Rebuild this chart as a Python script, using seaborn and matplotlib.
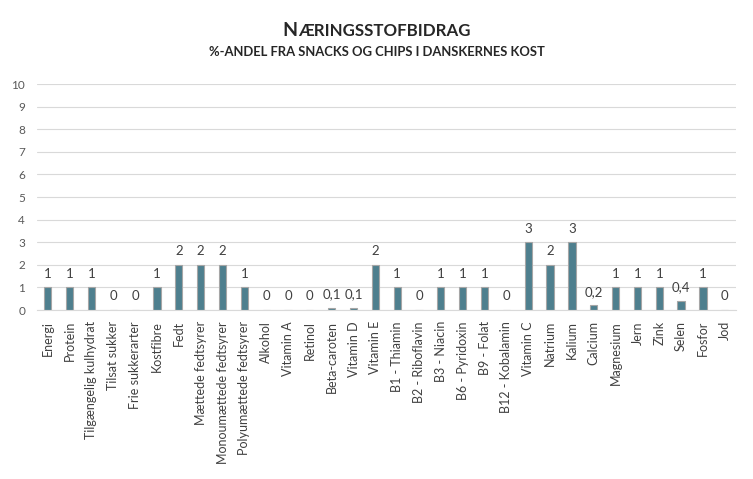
import matplotlib
matplotlib.use("Agg")
import matplotlib.pyplot as plt
import seaborn as sns
import pandas as pd

# Nutrient categories and % contribution from snacks & chips
categories = [
    "Energi", "Protein", "Tilgængelig kulhydrat", "Tilsat sukker", "Frie sukkerarter",
    "Kostfibre", "Fedt", "Mættede fedtsyrer", "Monoumættede fedtsyrer",
    "Polyumættede fedtsyrer", "Alkohol", "Vitamin A", "Retinol", "Beta-caroten",
    "Vitamin D", "Vitamin E", "B1 - Thiamin", "B2 - Riboflavin", "B3 - Niacin",
    "B6 - Pyridoxin", "B9 - Folat", "B12 - Kobalamin", "Vitamin C", "Natrium",
    "Kalium", "Calcium", "Magnesium", "Jern", "Zink", "Selen", "Fosfor", "Jod",
]
values = [1, 1, 1, 0, 0, 1, 2, 2, 2, 1, 0, 0, 0, 0.1, 0.1, 2, 1, 0, 1, 1, 1, 0,
          3, 2, 3, 0.2, 1, 1, 1, 0.4, 1, 0]
yticks = list(range(0, 11))

df = pd.DataFrame({"Naeringsstof": categories, "Andel": values})

sns.set_style("white")
plt.rcParams["font.family"] = ["Lato", "DejaVu Sans"]

fig = plt.figure(figsize=(7.53, 4.79), dpi=100)
ax = fig.add_axes([0.049, 0.3528, 0.928, 0.4718])

sns.barplot(data=df, x="Naeringsstof", y="Andel", color="#4E7F8E",
            edgecolor="#A6A6A6", linewidth=0.8, width=0.33, saturation=1, ax=ax)

labels = [f"{v:g}".replace(".", ",") for v in values]
ax.bar_label(ax.containers[0], labels=labels, padding=5.5, fontsize=9.5, color="#404040")

ax.set_ylim(0, 10)
ax.set_yticks(yticks)
ax.set_xlim(-0.5, len(categories) - 0.5)
ax.yaxis.grid(True, color="#D9D9D9", linewidth=0.8)
ax.set_axisbelow(True)
for s in ["top", "right", "left"]:
    ax.spines[s].set_visible(False)
ax.spines["bottom"].set_color("#D9D9D9")
ax.set_xlabel("")
ax.set_ylabel("")
ax.tick_params(axis="x", labelrotation=90, labelsize=9, colors="#404040", length=0, pad=8)
ax.tick_params(axis="y", labelsize=8.5, colors="#595959", length=0, pad=8.5)

# small-caps title
fig.canvas.draw()
r = fig.canvas.get_renderer()
t1 = fig.text(0, 0.925, "N", fontsize=14, fontweight="bold", va="baseline")
t2 = fig.text(0, 0.925, "ÆRINGSSTOFBIDRAG", fontsize=12.2, fontweight="bold", va="baseline")
w1 = t1.get_window_extent(r).width / fig.bbox.width
w2 = t2.get_window_extent(r).width / fig.bbox.width
x0 = 0.5 - (w1 + w2) / 2
t1.set_x(x0)
t2.set_x(x0 + w1)

fig.text(0.5, 0.884, "%-ANDEL FRA SNACKS OG CHIPS I DANSKERNES KOST",
         ha="center", va="baseline", fontsize=9.4, fontweight="bold")

fig.savefig("out.png", dpi=100)
